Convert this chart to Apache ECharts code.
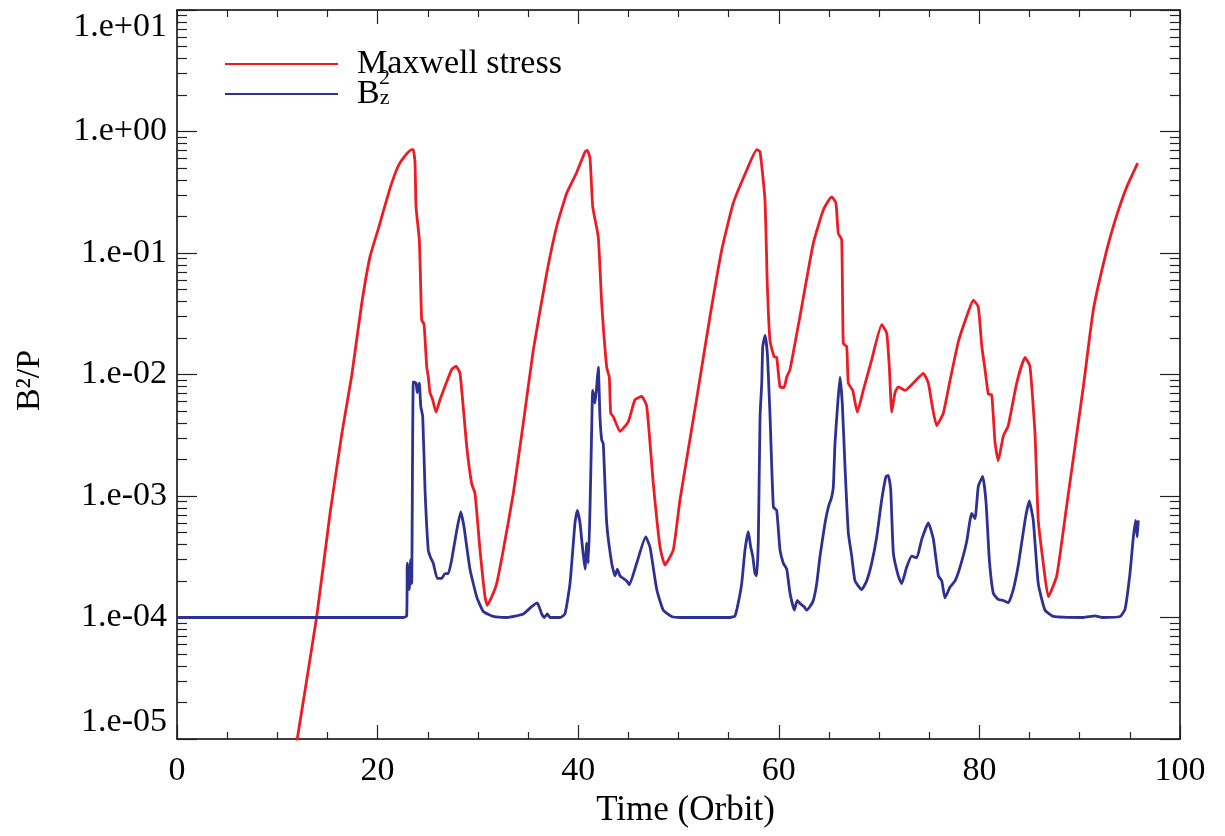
<!DOCTYPE html>
<html>
<head>
<meta charset="utf-8">
<script src="https://cdn.jsdelivr.net/npm/echarts@6/dist/echarts.min.js"></script>
<style>
  html, body { margin: 0; padding: 0; background: #fff; }
  #chart { width: 1225px; height: 836px; }
</style>
</head>
<body>
<div id="chart"></div>
<script>
// ---- Data ----
const maxwellTime = [11.5, 11.99, 13.93, 15.25, 16.42, 17.42, 18.41, 19.24, 20.07, 21.24, 22.06, 22.73, 23.40, 23.56, 23.73, 23.83, 24.16, 24.30, 24.40, 24.63, 24.90, 25.06, 25.22, 25.49, 25.82, 26.22, 26.89, 27.39, 27.82, 28.22, 28.88, 29.38, 29.71, 30.21, 30.71, 30.94, 31.38, 31.87, 32.53, 33.53, 34.53, 35.52, 36.86, 37.86, 38.85, 39.85, 40.68, 40.91, 41.18, 41.45, 42.00, 42.34, 42.84, 43.10, 43.24, 43.50, 44.17, 45.00, 45.66, 46.33, 46.83, 47.49, 48.16, 48.65, 49.48, 50.15, 51.81, 53.14, 54.31, 55.46, 56.80, 57.80, 58.13, 58.62, 58.85, 59.12, 59.52, 59.79, 60.12, 60.52, 60.79, 61.12, 62.11, 63.44, 64.44, 65.27, 65.70, 65.93, 66.27, 66.43, 66.77, 66.93, 67.37, 67.83, 68.42, 69.26, 70.26, 70.76, 71.02, 71.26, 71.59, 71.91, 72.58, 73.41, 74.41, 74.91, 75.25, 75.74, 76.40, 77.07, 77.90, 78.73, 79.39, 79.89, 80.23, 80.56, 80.89, 81.23, 81.56, 81.88, 82.38, 82.88, 83.72, 84.55, 85.04, 85.54, 85.87, 86.37, 86.87, 87.71, 88.70, 90.36, 91.36, 92.69, 93.69, 94.69, 95.78];
const maxwellValue = [5.5e-6, 1.0e-5, 1.02e-4, 7.1e-4, 3.2e-3, 9.8e-3, 3.8e-2, 9.3e-2, 0.158, 0.34, 0.52, 0.63, 0.71, 0.71, 0.56, 0.24, 0.128, 0.052, 0.028, 0.026, 0.0115, 0.0095, 0.0071, 0.0062, 0.0049, 0.0062, 0.0087, 0.011, 0.0117, 0.0102, 0.0026, 0.00126, 0.00105, 3.6e-4, 1.48e-4, 1.26e-4, 1.48e-4, 1.9e-4, 3.6e-4, 1.05e-3, 4.0e-3, 0.0158, 0.068, 0.166, 0.31, 0.46, 0.68, 0.70, 0.60, 0.24, 0.136, 0.039, 0.0115, 0.0095, 0.0048, 0.0045, 0.0034, 0.0041, 0.0062, 0.0066, 0.0055, 0.00126, 3.8e-4, 2.7e-4, 3.6e-4, 9.3e-4, 0.0063, 0.030, 0.106, 0.257, 0.48, 0.71, 0.68, 0.275, 0.056, 0.019, 0.0141, 0.0138, 0.0079, 0.0078, 0.0095, 0.011, 0.030, 0.12, 0.226, 0.29, 0.257, 0.145, 0.129, 0.018, 0.017, 0.0085, 0.0074, 0.0049, 0.0074, 0.0132, 0.0257, 0.0219, 0.0115, 0.0049, 0.0071, 0.0079, 0.0074, 0.0085, 0.0102, 0.0085, 0.0058, 0.0038, 0.0048, 0.0089, 0.0186, 0.030, 0.041, 0.036, 0.0174, 0.011, 0.0069, 0.0068, 0.00275, 0.00195, 0.0031, 0.0038, 0.0085, 0.0138, 0.0117, 0.0033, 6.3e-4, 2.8e-4, 1.48e-4, 2.2e-4, 8.3e-4, 0.0079, 0.034, 0.105, 0.204, 0.35, 0.55];

const bz2Time = [0, 22.56, 22.90, 22.96, 23.16, 23.30, 23.40, 23.56, 23.83, 23.96, 24.16, 24.30, 24.50, 24.73, 25.05, 25.29, 25.55, 25.95, 26.39, 26.72, 27.05, 27.39, 27.89, 28.29, 28.61, 29.21, 29.88, 30.54, 31.54, 32.87, 34.53, 35.36, 35.92, 36.36, 36.62, 36.92, 37.19, 38.19, 38.68, 39.18, 39.68, 39.91, 40.18, 40.45, 40.68, 40.85, 41.01, 41.18, 41.35, 41.45, 41.67, 41.84, 42.00, 42.17, 42.34, 42.50, 42.84, 43.34, 43.67, 43.90, 44.17, 44.83, 45.09, 45.83, 46.73, 47.16, 47.83, 48.48, 49.32, 50.15, 55.13, 55.63, 55.96, 56.30, 56.63, 56.96, 57.20, 57.40, 57.63, 57.80, 57.96, 58.13, 58.30, 58.40, 58.63, 58.86, 59.06, 59.13, 59.46, 59.79, 60.12, 60.45, 60.79, 61.12, 61.55, 61.84, 62.18, 62.51, 62.78, 63.11, 63.44, 63.78, 64.11, 64.61, 64.94, 65.27, 65.44, 65.60, 65.83, 66.10, 66.33, 66.60, 66.93, 67.27, 67.60, 68.26, 68.76, 69.26, 69.76, 70.26, 70.69, 70.92, 71.16, 71.42, 71.91, 72.25, 72.75, 73.25, 73.75, 74.25, 74.91, 75.41, 75.91, 76.25, 76.57, 77.07, 77.57, 78.07, 78.73, 79.23, 79.56, 79.89, 80.33, 80.66, 80.99, 81.39, 81.88, 82.38, 82.88, 83.38, 83.88, 84.55, 84.97, 85.37, 85.87, 86.54, 87.37, 90.36, 91.53, 92.20, 94.02, 94.52, 95.01, 95.35, 95.58, 95.74, 95.84];
const bz2Value = [1.0e-4, 1.0e-4, 1.03e-4, 2.8e-4, 1.7e-4, 3.0e-4, 1.9e-4, 8.7e-3, 8.5e-3, 7.1e-3, 8.5e-3, 5.5e-3, 4.5e-3, 1.12e-3, 3.6e-4, 3.1e-4, 2.8e-4, 2.1e-4, 2.1e-4, 2.3e-4, 2.3e-4, 3.0e-4, 5.2e-4, 7.4e-4, 5.6e-4, 2.5e-4, 1.48e-4, 1.12e-4, 1.02e-4, 1.0e-4, 1.07e-4, 1.23e-4, 1.32e-4, 1.07e-4, 1.0e-4, 1.07e-4, 1.0e-4, 1.0e-4, 1.07e-4, 1.9e-4, 6.0e-4, 7.6e-4, 6.0e-4, 3.6e-4, 2.5e-4, 4.1e-4, 2.8e-4, 8.1e-4, 3.7e-3, 7.4e-3, 5.8e-3, 7.9e-3, 1.15e-2, 4.5e-3, 2.9e-3, 2.7e-3, 6.0e-4, 2.8e-4, 2.2e-4, 2.5e-4, 2.2e-4, 2.0e-4, 1.86e-4, 2.8e-4, 4.6e-4, 3.8e-4, 1.7e-4, 1.15e-4, 1.02e-4, 1.0e-4, 1.0e-4, 1.03e-4, 1.32e-4, 1.9e-4, 3.6e-4, 5.1e-4, 3.8e-4, 3.2e-4, 2.3e-4, 2.2e-4, 4.4e-4, 4.5e-3, 8.5e-3, 1.7e-2, 2.1e-2, 1.48e-2, 6.2e-3, 4.5e-3, 8.1e-4, 7.6e-4, 3.6e-4, 2.8e-4, 2.5e-4, 1.58e-4, 1.15e-4, 1.38e-4, 1.29e-4, 1.23e-4, 1.15e-4, 1.23e-4, 1.38e-4, 1.9e-4, 3.2e-4, 6.0e-4, 8.1e-4, 9.8e-4, 1.2e-3, 2.7e-3, 5.1e-3, 9.5e-3, 5.8e-3, 1.74e-3, 5.0e-4, 3.2e-4, 2.0e-4, 1.7e-4, 2.0e-4, 2.8e-4, 4.6e-4, 9.3e-4, 1.45e-3, 1.48e-3, 1.12e-3, 3.4e-4, 2.2e-4, 1.9e-4, 2.6e-4, 3.2e-4, 3.1e-4, 4.4e-4, 6.0e-4, 4.4e-4, 2.2e-4, 2.0e-4, 1.45e-4, 1.78e-4, 2.0e-4, 2.6e-4, 4.2e-4, 7.2e-4, 6.5e-4, 1.2e-3, 1.45e-3, 8.9e-4, 3.0e-4, 1.58e-4, 1.41e-4, 1.38e-4, 1.32e-4, 1.7e-4, 2.7e-4, 6.3e-4, 9.1e-4, 6.3e-4, 1.9e-4, 1.15e-4, 1.02e-4, 1.0e-4, 1.03e-4, 1.0e-4, 1.02e-4, 1.17e-4, 2.3e-4, 4.6e-4, 6.3e-4, 4.6e-4, 6.3e-4];

const seriesNames = ['Maxwell stress', 'B_z^2'];
const xTickValues = [0, 20, 40, 60, 80, 100];
const yTickExponents = [-5, -4, -3, -2, -1, 0, 1];
const xTitle = 'Time (Orbit)';
const yTitle = 'B\u00B2/P';

// ---- Styling ----
const FONT = 'Liberation Serif';
const RED = '#ed1c24';
const BLUE = '#2e3192';
const TICK = '#222';

function expLabel(v) {
  const e = Math.round(Math.log10(v));
  return '1.e' + (e < 0 ? '-' : '+') + String(Math.abs(e)).padStart(2, '0');
}

const chart = echarts.init(document.getElementById('chart'), null, { renderer: 'canvas' });

const xBase = {
  type: 'value', min: xTickValues[0], max: xTickValues[xTickValues.length - 1], interval: 20,
  splitLine: { show: false },
  axisLine: { show: true, onZero: false, lineStyle: { color: '#000', width: 1.5 } },
  axisTick: { show: true, inside: true, length: 14, lineStyle: { color: TICK, width: 1.2 } },
  minorTick: { show: true, splitNumber: 4, length: 7, lineStyle: { color: TICK, width: 1.2 } },
  minorSplitLine: { show: false }
};
const yBase = {
  type: 'log', logBase: 10,
  min: Math.pow(10, yTickExponents[0]), max: Math.pow(10, yTickExponents[yTickExponents.length - 1]),
  interval: 1, splitNumber: 6,
  splitLine: { show: false },
  axisLine: { show: true, onZero: false, lineStyle: { color: '#000', width: 1.5 } },
  axisTick: { show: true, inside: true, length: 20, lineStyle: { color: TICK, width: 1.2 } },
  minorTick: { show: true, splitNumber: 9, length: 10, lineStyle: { color: TICK, width: 1.2 } },
  minorSplitLine: { show: false }
};

const lineCommon = {
  type: 'line', xAxisIndex: 0, yAxisIndex: 0,
  showSymbol: false, symbol: 'none', clip: true,
  smooth: 0.15
};

const option = {
  backgroundColor: '#ffffff',
  animation: false,
  grid: { left: 177, right: 45, top: 10, bottom: 97, containLabel: false },
  legend: {
    orient: 'vertical', left: 220, top: 42,
    itemWidth: 113, itemHeight: 2, itemGap: -4, icon: 'rect',
    data: seriesNames,
    selectedMode: false,
    formatter: function (name) {
      return name === seriesNames[0] ? '{t|' + name + '}' : '{t|B}{z|z}';
    },
    textStyle: {
      color: '#000', fontFamily: FONT, fontSize: 34,
      rich: {
        t: { fontFamily: FONT, fontSize: 34, lineHeight: 30, color: '#000', padding: [0, 0, 0, 14] },
        z: { fontFamily: FONT, fontSize: 22, lineHeight: 14, color: '#000', verticalAlign: 'bottom' }
      }
    }
  },
  graphic: [
    { type: 'text', left: 379, top: 67, style: { text: '2', font: '22px "Liberation Serif"', fill: '#000' } }
  ],
  xAxis: [
    Object.assign({}, xBase, {
      position: 'bottom',
      name: xTitle, nameLocation: 'middle', nameGap: 50,
      nameTextStyle: { fontFamily: FONT, fontSize: 35, color: '#000', padding: [0, 0, 0, 14] },
      axisLabel: { show: true, margin: 15, fontFamily: FONT, fontSize: 34, color: '#000' }
    }),
    Object.assign({}, xBase, { position: 'top', axisLabel: { show: false } })
  ],
  yAxis: [
    Object.assign({}, yBase, {
      position: 'left',
      name: yTitle, nameLocation: 'middle', nameGap: 130, nameRotate: 90,
      nameTextStyle: { fontFamily: FONT, fontSize: 34, color: '#000', padding: [0, 12, 0, 0] },
      axisLabel: {
        show: true, margin: 10, fontFamily: FONT, fontSize: 34, color: '#000',
        formatter: expLabel,
        verticalAlignMinLabel: 'bottom', verticalAlignMaxLabel: 'top'
      }
    }),
    Object.assign({}, yBase, { position: 'right', axisLabel: { show: false } })
  ],
  series: [
    Object.assign({}, lineCommon, {
      name: seriesNames[0],
      lineStyle: { color: RED, width: 2.8 }, itemStyle: { color: RED },
      data: maxwellTime.map((t, i) => [t, maxwellValue[i]])
    }),
    Object.assign({}, lineCommon, {
      name: seriesNames[1],
      lineStyle: { color: BLUE, width: 2.8 }, itemStyle: { color: BLUE },
      data: bz2Time.map((t, i) => [t, bz2Value[i]])
    })
  ]
};

chart.setOption(option);
</script>
</body>
</html>
